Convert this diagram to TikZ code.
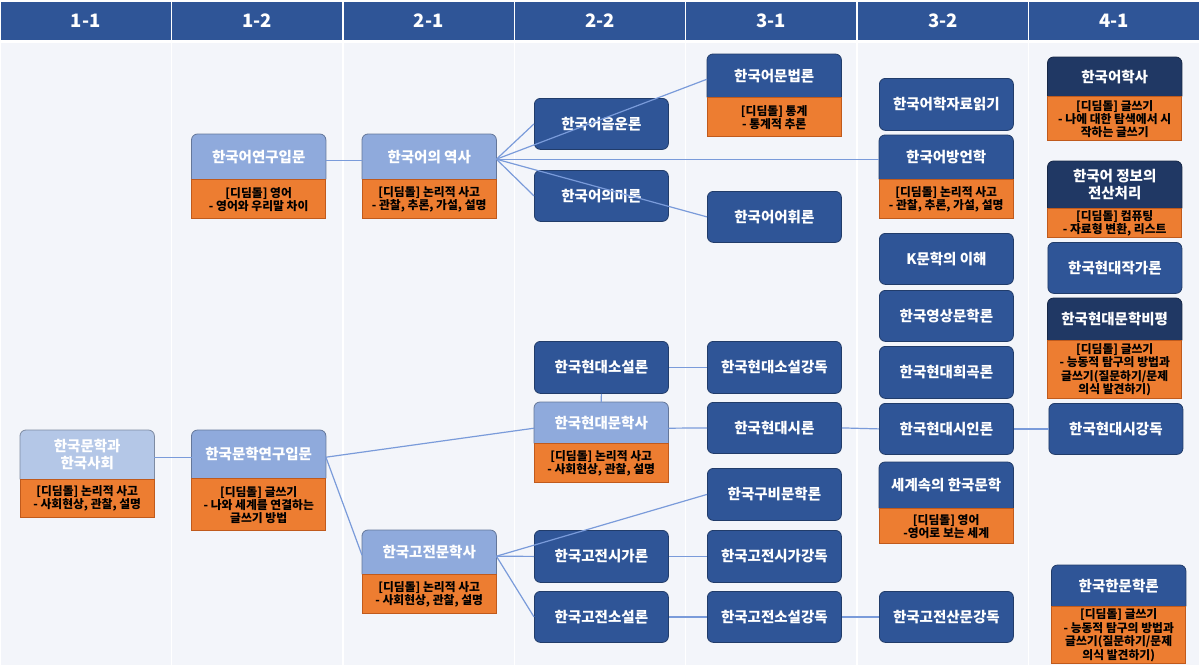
\documentclass[tikz,border=0pt]{standalone}
\usepackage{fontspec}
\newfontfamily\kr{Noto Sans CJK KR}
\pgfdeclarelayer{bg}\pgfdeclarelayer{boxes}\pgfsetlayers{bg,boxes,main}
\definecolor{hdr}{HTML}{2F5597}
\definecolor{dkb}{HTML}{2F5597}
\definecolor{dkst}{HTML}{203864}
\definecolor{midb}{HTML}{8FAADC}
\definecolor{ltb}{HTML}{B4C7E7}
\definecolor{org}{HTML}{ED7D31}
\definecolor{orgline}{HTML}{C05A1C}
\definecolor{conn}{HTML}{7A9BDA}
\definecolor{bodyc}{HTML}{F3F5FA}
\tikzset{
 colhead/.style={font=\kr\bfseries\fontsize{18.5}{21}\selectfont, text=white},
 crs/.style={draw=dkb!70!black, fill=dkb, rounded corners=6pt, line width=0.8pt, text=white, font=\kr\bfseries\fontsize{14.5}{17.5}\selectfont, minimum width=134pt, inner sep=0pt, align=center, anchor=north west},
 crsdk/.style={crs, fill=dkst, draw=dkst!70!black},
 headtxt/.style={text=white, font=\kr\bfseries\fontsize{14.5}{17}\selectfont, minimum width=134pt, inner sep=0pt, align=center, anchor=north west},
 subbox/.style={fill=org, draw=orgline, line width=0.8pt, text=black, font=\kr\bfseries\fontsize{11.8}{13}\selectfont, minimum width=134pt, inner sep=0pt, align=center, anchor=north},
 subtall/.style={font=\kr\bfseries\fontsize{11.8}{13.6}\selectfont},
 link/.style={draw=conn, line width=1.2pt},
}
\newcommand\compbox[9]{%
 \node[headtxt, minimum height=#4pt] (#1) at (#2,#3) {#7};
 \node[subbox, #9, minimum height=#5pt] (#1s) at (#1.south) {#8};
 \begin{pgfonlayer}{boxes}
 \path[fill=#6, draw=#6!70!black, line width=0.8pt, rounded corners=6pt] (#1.south west) -- (#1.north west) -- (#1.north east) -- (#1.south east);
 \end{pgfonlayer}}
\begin{document}
\begin{tikzpicture}[x=1pt,y=-1pt]
\useasboundingbox (0,0) rectangle (1200,667);
\begin{pgfonlayer}{bg}
\fill[white] (0,0) rectangle (1200,667);
\foreach \i in {0,...,6}{
 \fill[hdr] ({\i*171.43+0.75},2) rectangle ({(\i+1)*171.43-0.75},40);
 \fill[bodyc] ({\i*171.43+0.75},42.5) rectangle ({(\i+1)*171.43-0.75},665);
}
\end{pgfonlayer}
\foreach \i/\t in {0/1-1,1/1-2,2/2-1,3/2-2,4/3-1,5/3-2,6/4-1}{
 \node[colhead] (h\i) at ({(\i+0.5)*171.43},21) {\t};
}
% column 1-1
\compbox{n11}{20}{430}{49}{38}{ltb}{한국문학과\\한국사회}{[디딤돌] 논리적 사고\\- 사회현상, 관찰, 설명}{}
% column 1-2
\compbox{n12a}{191.5}{134}{45}{39}{midb}{한국어연구입문}{[디딤돌] 영어\\- 영어와 우리말 차이}{}
\compbox{n12b}{191.5}{430}{48}{52}{midb}{한국문학연구입문}{[디딤돌] 글쓰기\\- 나와 세계를 연결하는\\글쓰기 방법}{}
% column 2-1
\compbox{n21a}{362}{134}{45}{39}{midb}{한국어의 역사}{[디딤돌] 논리적 사고\\- 관찰, 추론, 가설, 설명}{}
\compbox{n21b}{362}{530}{44}{39}{midb}{한국고전문학사}{[디딤돌] 논리적 사고\\- 사회현상, 관찰, 설명}{}
% column 2-2
\node[crs, minimum height=51pt] (n22a) at (534,98) {한국어음운론};
\node[crs, minimum height=51pt] (n22b) at (534,170) {한국어의미론};
\node[crs, minimum height=52pt] (n22c) at (534,341) {한국현대소설론};
\compbox{n22d}{534}{402}{41}{39}{midb}{한국현대문학사}{[디딤돌] 논리적 사고\\- 사회현상, 관찰, 설명}{}
\node[crs, minimum height=52pt] (n22e) at (534,530) {한국고전시가론};
\node[crs, minimum height=51pt] (n22f) at (534,591) {한국고전소설론};
% column 3-1
\compbox{n31a}{707}{54}{43}{39}{dkb}{한국어문법론}{[디딤돌] 통계\\- 통계적 추론}{}
\node[crs, minimum height=51pt] (n31b) at (707,191) {한국어어휘론};
\node[crs, minimum height=52pt] (n31c) at (707,341) {한국현대소설강독};
\node[crs, minimum height=51pt] (n31d) at (707,402) {한국현대시론};
\node[crs, minimum height=52pt] (n31e) at (707,468) {한국구비문학론};
\node[crs, minimum height=52pt] (n31f) at (707,530) {한국고전시가강독};
\node[crs, minimum height=51pt] (n31g) at (707,591) {한국고전소설강독};
% column 3-2
\node[crs, minimum height=52pt] (n32a) at (879,78) {한국어학자료읽기};
\compbox{n32b}{879}{135}{44}{39}{dkb}{한국어방언학}{[디딤돌] 논리적 사고\\- 관찰, 추론, 가설, 설명}{}
\node[crs, minimum height=51pt] (n32c) at (879,233) {K문학의 이해};
\node[crs, minimum height=51pt] (n32d) at (879,290) {한국영상문학론};
\node[crs, minimum height=52pt] (n32e) at (879,346) {한국현대희곡론};
\node[crs, minimum height=51pt] (n32f) at (879,403) {한국현대시인론};
\compbox{n32g}{879}{462}{46}{35}{dkb}{세계속의 한국문학}{[디딤돌] 영어\\-영어로 보는 세계}{}
\node[crs, minimum height=51pt] (n32h) at (879,591) {한국고전산문강독};
% column 4-1
\compbox{n41a}{1047.5}{57}{39}{44}{dkst}{한국어학사}{[디딤돌] 글쓰기\\- 나에 대한 탐색에서 시\\작하는 글쓰기}{}
\compbox{n41b}{1047.5}{161}{47}{29}{dkst}{한국어 정보의\\전산처리}{[디딤돌] 컴퓨팅\\- 자료형 변환, 리스트}{}
\node[crs, minimum height=51pt] (n41c) at (1047.5,242) {한국현대작가론};
\compbox{n41d}{1047.5}{298}{42}{58}{dkst}{한국현대문학비평}{[디딤돌] 글쓰기\\- 능동적 탐구의 방법과\\글쓰기(질문하기/문제\\의식 발견하기)}{subtall}
\node[crs, minimum height=51pt] (n41e) at (1048.5,403) {한국현대시강독};
\compbox{n41f}{1051.5}{565}{41}{57}{dkb}{한국한문학론}{[디딤돌] 글쓰기\\- 능동적 탐구의 방법과\\글쓰기(질문하기/문제\\의식 발견하기)}{subtall}
% connectors
\draw[link] ([yshift=-2.5pt]n11.east) -- ([yshift=-3pt]n12b.west);
\draw[link] ([yshift=-3.5pt]n12a.east) -- ([yshift=-3.5pt]n21a.west);
\draw[link] ([yshift=-2.5pt]n21a.east) -- (n22a.west);
\draw[link] ([yshift=-2.5pt]n21a.east) -- ([yshift=-3.5pt]n31a.west);
\draw[link] ([yshift=-2.5pt]n21a.east) -- ([yshift=-2pt]n32b.west);
\draw[link] ([yshift=-2.5pt]n21a.east) -- (n22b.west);
\draw[link] ([yshift=-2.5pt]n21a.east) -- (n31b.west);
\draw[link] ([yshift=-3pt]n12b.east) -- ([yshift=-5.5pt]n22d.west);
\draw[link] ([yshift=-3pt]n12b.east) -- ([yshift=-3pt]n21b.west);
\draw[link] (n22c.south) -- (n22d.north);
\draw[link] (n22c.east) -- (n31c.west);
\draw[link] ([yshift=-5.5pt]n22d.east) -- (n31d.west);
\draw[link] (n31d.east) -- (n32f.west);
\draw[link] (n32f.east) -- (n41e.west);
\draw[link] ([yshift=-4pt]n21b.east) -- (n31e.west);
\draw[link] ([yshift=-4pt]n21b.east) -- (n22e.west);
\draw[link] ([yshift=-4pt]n21b.east) -- (n22f.west);
\draw[link] (n22e.east) -- (n31f.west);
\draw[link] (n22f.east) -- (n31g.west);
\draw[link] (n31g.east) -- (n32h.west);
\end{tikzpicture}
\end{document}
